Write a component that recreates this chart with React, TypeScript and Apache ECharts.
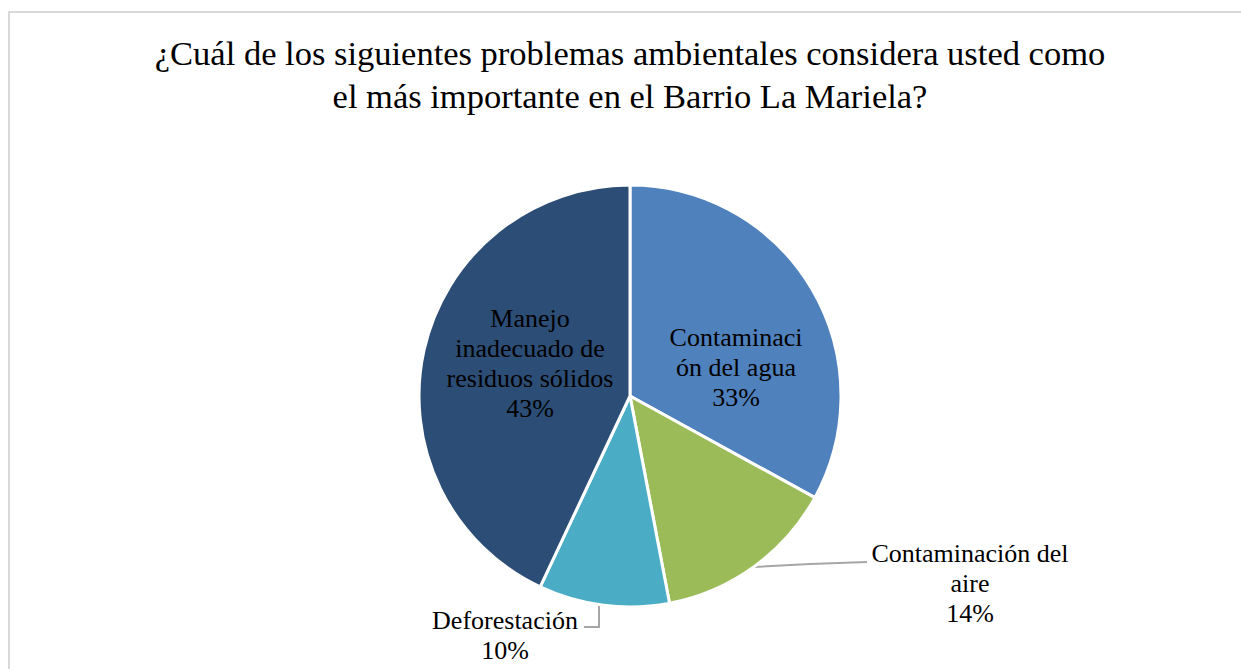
import React, { useEffect, useRef } from "react";
import * as echarts from "echarts";

const titleLines = [
  "¿Cuál de los siguientes problemas ambientales considera usted como",
  "el más importante en el Barrio La Mariela?",
];
const categories = [
  "Contaminaci\nón del agua",
  "Contaminación del\naire",
  "Deforestación",
  "Manejo\ninadecuado de\nresiduos sólidos",
];
const values = [33, 14, 10, 43];
const colors = ["#4F81BD", "#9BBB59", "#4BACC6", "#2C4D75"];
const labelInside = [true, false, false, true];

export default function App() {
  const ref = useRef<HTMLDivElement>(null);
  useEffect(() => {
    document.body.style.margin = "0";
    const chart = echarts.init(ref.current!, null, { renderer: "svg" });
    const font = "Liberation Serif";
    chart.setOption({
      animation: false,
      backgroundColor: "#ffffff",
      title: {
        text: titleLines.join("\n"),
        left: 630,
        textAlign: "center",
        top: 31,
        padding: 0,
        textStyle: {
          fontFamily: font,
          fontSize: 34.5,
          fontWeight: "normal",
          color: "#000000",
          lineHeight: 43,
        },
      },
      graphic: [
        {
          type: "rect",
          shape: { x: 9, y: 12, width: 1400, height: 800 },
          style: { fill: "none", stroke: "#d9d9d9", lineWidth: 2 },
          silent: true,
          z: -1,
        },
      ],
      series: [
        {
          type: "pie",
          center: [630, 396],
          radius: 211,
          startAngle: 90,
          clockwise: true,
          itemStyle: { borderColor: "#ffffff", borderWidth: 3 },
          label: {
            fontFamily: font,
            fontSize: 26,
            lineHeight: 30,
            color: "#000000",
            align: "center",
            formatter: (p: any) => `${p.name}\n${p.value}%`,
          },
          labelLine: { lineStyle: { color: "#a6a6a6", width: 2 }, length: 20, length2: 20 },
          labelLayout: (params: any) => {
            const i = params.dataIndex;
            if (i === 0) return { x: 736, y: 367, align: "center", verticalAlign: "middle" };
            if (i === 3) return { x: 530, y: 363, align: "center", verticalAlign: "middle" };
            if (i === 1)
              return {
                x: 970,
                y: 583,
                align: "center",
                verticalAlign: "middle",
                labelLinePoints: [
                  [754, 567],
                  [810, 564],
                  [867, 562],
                ],
              };
            return {
              x: 505,
              y: 635,
              align: "center",
              verticalAlign: "middle",
              labelLinePoints: [
                [599, 605],
                [599, 627],
                [584, 627],
              ],
            };
          },
          data: categories.map((name, i) => ({
            name,
            value: values[i],
            itemStyle: { color: colors[i] },
            label: { position: labelInside[i] ? "inside" : "outside" },
            labelLine: { show: !labelInside[i] },
          })),
        },
      ],
    });
    return () => chart.dispose();
  }, []);
  return <div ref={ref} style={{ width: 1241, height: 669 }} />;
}
